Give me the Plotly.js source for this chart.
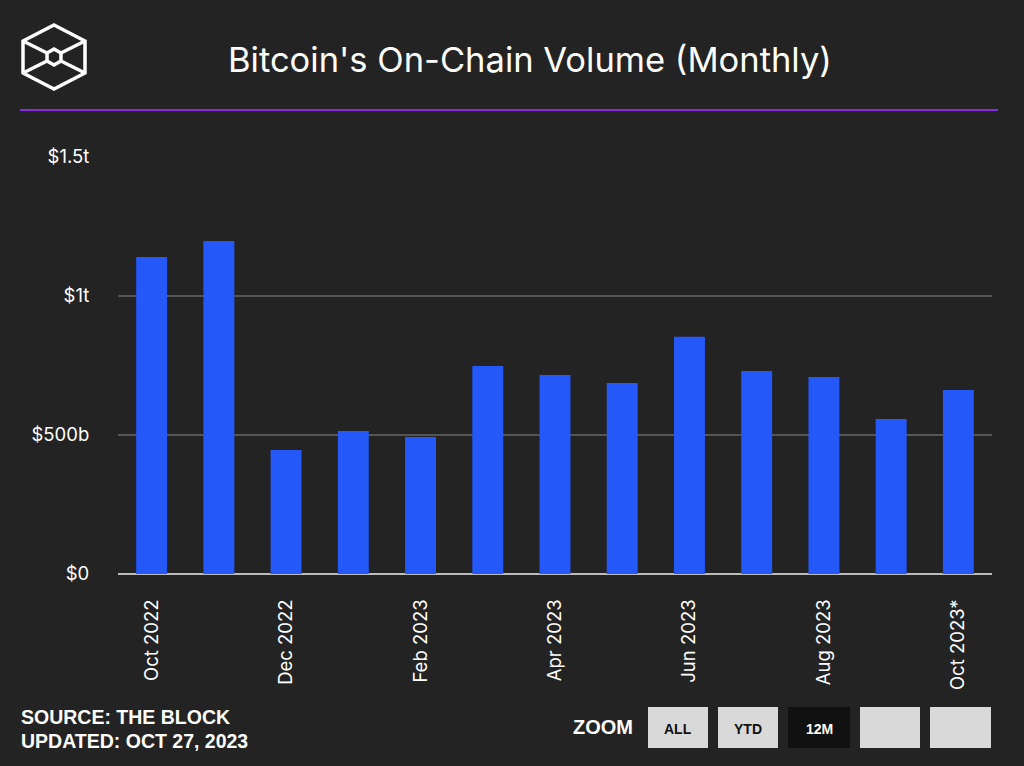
<!DOCTYPE html>
<html>
<head>
<meta charset="utf-8">
<script src="https://cdn.plot.ly/plotly-3.0.1.min.js"></script>
<style>
html,body{margin:0;padding:0;background:#232323;}
#chart{width:1024px;height:766px;}
</style>
</head>
<body>
<div id="chart"></div>
<script>
// ---- data ----
const months = ["Oct 2022","Nov 2022","Dec 2022","Jan 2023","Feb 2023","Mar 2023","Apr 2023","May 2023","Jun 2023","Jul 2023","Aug 2023","Sep 2023","Oct 2023*"];
const volumeTrillions = [1.140, 1.198, 0.446, 0.514, 0.493, 0.748, 0.716, 0.687, 0.853, 0.730, 0.709, 0.558, 0.662];
const xTickLabels = ["Oct 2022","Dec 2022","Feb 2023","Apr 2023","Jun 2023","Aug 2023","Oct 2023*"];
const yTickValues = [0, 0.5, 1, 1.5];
const yTickLabels = ["$0","$500b","$1t","$1.5t"];

// ---- layout helpers (pixel -> paper) ----
const W = 1024, H = 766;
const mL = 118, mR = 32, mT = 157, mB = 192;
const pw = W - mL - mR, ph = H - mT - mB;
const px = x => (x - mL) / pw;
const py = y => (H - mB - y) / ph;

const shapes = [];
// purple divider
shapes.push({type:'line', xref:'paper', yref:'paper', x0:px(20), x1:px(998), y0:py(110), y1:py(110), line:{color:'#8a2be2', width:2}});
// logo
const cx = 54, cy = 57;
const hex = [[54,25],[85,41],[85,73],[54,89],[23,73],[23,41]];
let p = 'M ' + hex.map(v => px(v[0]) + ' ' + py(v[1])).join(' L ') + ' Z';
shapes.push({type:'path', xref:'paper', yref:'paper', path:p, line:{color:'#ffffff', width:3.5}});
const r = 8;
const inner = [[cx, cy-r],[cx+r*0.87, cy-r/2],[cx+r*0.87, cy+r/2],[cx, cy+r],[cx-r*0.87, cy+r/2],[cx-r*0.87, cy-r/2]];
p = 'M ' + inner.map(v => px(v[0]) + ' ' + py(v[1])).join(' L ') + ' Z';
shapes.push({type:'path', xref:'paper', yref:'paper', path:p, line:{color:'#ffffff', width:3.5}});
[[23,41,inner[5]],[85,41,inner[1]],[23,73,inner[4]],[85,73,inner[2]]].forEach(a => {
  shapes.push({type:'line', xref:'paper', yref:'paper', x0:px(a[0]), y0:py(a[1]), x1:px(a[2][0]), y1:py(a[2][1]), line:{color:'#ffffff', width:3.5}});
});
// zoom buttons
const btns = [[648,708,'ALL','#d9d9d9','#111111'],[718,778,'YTD','#d9d9d9','#111111'],[788,850,'12M','#111111','#ffffff'],[860,920,'','#d9d9d9','#111111'],[930,991,'','#d9d9d9','#111111']];
const annotations = [];
const narrow = 'Liberation Sans Narrow, Arial Narrow, Arial';
btns.forEach(b => {
  shapes.push({type:'rect', xref:'paper', yref:'paper', x0:px(b[0]), x1:px(b[1]), y0:py(748), y1:py(707), fillcolor:b[3], line:{width:0}});
  if (b[2]) annotations.push({xref:'paper', yref:'paper', x:px((b[0]+b[1])/2), y:py(729), text:'<b>'+b[2]+'</b>', showarrow:false, xanchor:'center', yanchor:'middle', font:{family:narrow, size:14, color:b[4]}});
});
annotations.push({xref:'paper', yref:'paper', x:px(635), y:py(727), text:'<b>ZOOM</b>', showarrow:false, xanchor:'right', yanchor:'middle', font:{family:narrow, size:20, color:'#ffffff'}});
annotations.push({xref:'paper', yref:'paper', x:px(19), y:py(717), text:'<b>SOURCE: THE BLOCK</b>', showarrow:false, xanchor:'left', yanchor:'middle', font:{family:narrow, size:19.5, color:'#ffffff'}});
annotations.push({xref:'paper', yref:'paper', x:px(19), y:py(741), text:'<b>UPDATED: OCT 27, 2023</b>', showarrow:false, xanchor:'left', yanchor:'middle', font:{family:narrow, size:19.5, color:'#ffffff'}});
annotations.push({xref:'paper', yref:'paper', x:px(530), y:py(60), text:"Bitcoin's On-Chain Volume (Monthly)", showarrow:false, xanchor:'center', yanchor:'middle', font:{family:'Inter, Roboto, sans-serif', size:34.5, color:'#ffffff'}});

const trace = {
  type:'bar', x:months, y:volumeTrillions,
  marker:{color:'#2458f8'}, hoverinfo:'x+y'
};

const layout = {
  width:W, height:H,
  paper_bgcolor:'#232323', plot_bgcolor:'#232323',
  margin:{l:mL, r:mR, t:mT, b:mB, pad:0},
  showlegend:false,
  bargap:0.54,
  font:{family:'Inter, Roboto, sans-serif', color:'#ffffff'},
  xaxis:{
    type:'category', tickmode:'array', tickvals:xTickLabels, ticktext:xTickLabels,
    tickangle:-90, ticks:'outside', ticklen:17, tickcolor:'rgba(0,0,0,0)',
    tickfont:{size:18.5, color:'#ffffff'}, showgrid:false, showline:false, zeroline:false, fixedrange:true
  },
  yaxis:{
    range:[0,1.5], tickmode:'array', tickvals:yTickValues, ticktext:yTickLabels,
    ticks:'outside', ticklen:24, tickcolor:'rgba(0,0,0,0)',
    tickfont:{size:18.5, color:'#ffffff'}, showgrid:true, gridcolor:'#555555', gridwidth:1.5,
    zeroline:true, zerolinecolor:'#bbbbbb', zerolinewidth:2, showline:false, fixedrange:true
  },
  shapes:shapes, annotations:annotations
};

Plotly.newPlot('chart', [trace], layout, {displayModeBar:false, staticPlot:true});
</script>
</body>
</html>
